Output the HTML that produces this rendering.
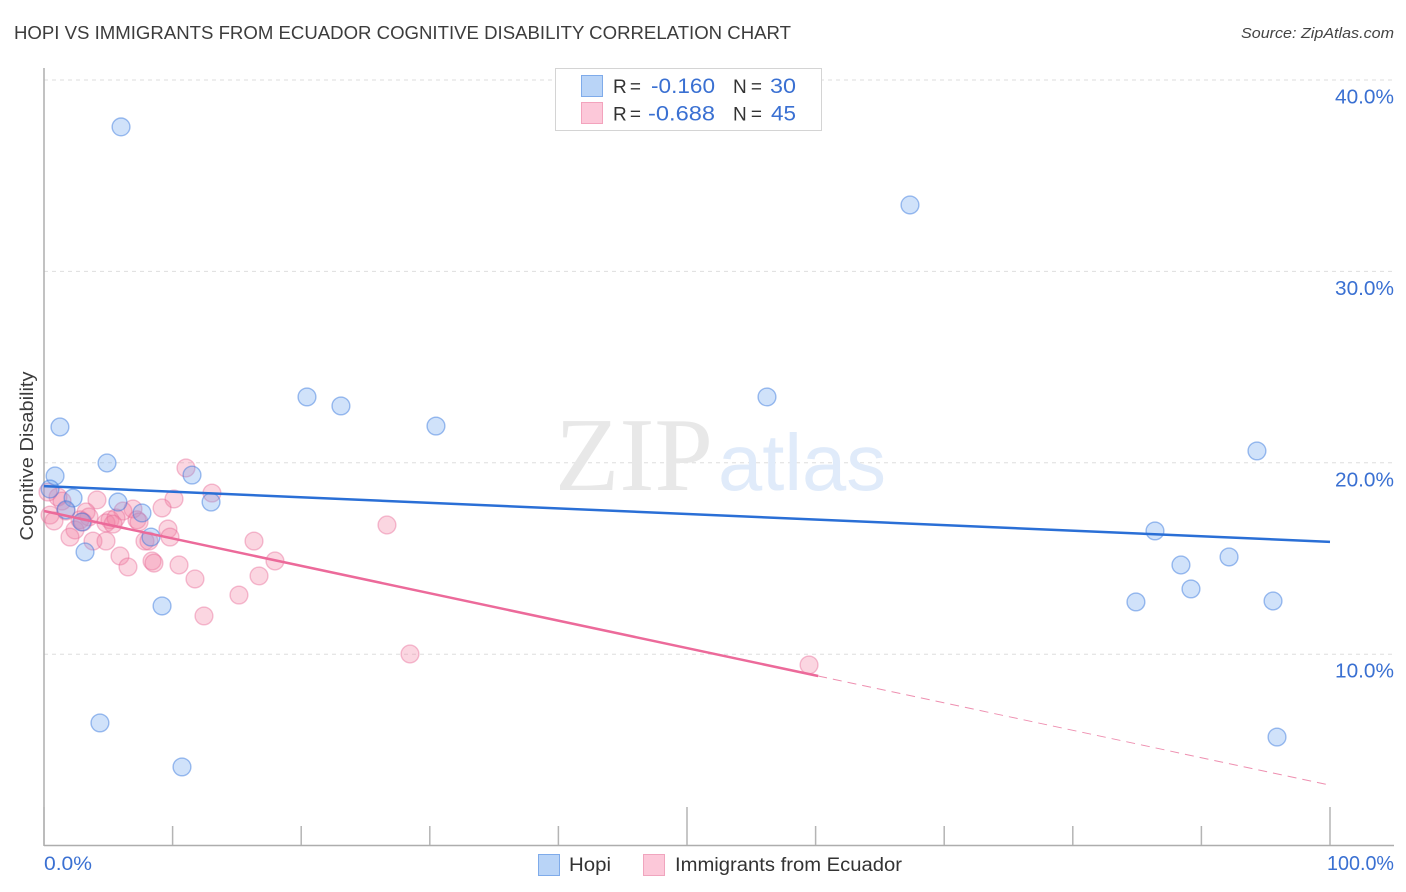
<!DOCTYPE html>
<html lang="en">
<head>
<meta charset="utf-8">
<title>Hopi vs Immigrants from Ecuador Cognitive Disability Correlation Chart</title>
<style>
html,body{margin:0;padding:0;background:#fff;width:1406px;height:892px;overflow:hidden}
svg{display:block;font-family:"Liberation Sans",sans-serif}
</style>
</head>
<body>
<svg id="chart" width="1406" height="892" viewBox="0 0 1406 892" xmlns="http://www.w3.org/2000/svg">
  <text x="14" y="39" font-size="18.5" fill="#3c3c3c" textLength="777" lengthAdjust="spacingAndGlyphs">HOPI VS IMMIGRANTS FROM ECUADOR COGNITIVE DISABILITY CORRELATION CHART</text>
  <text x="1241" y="38" font-size="15" font-style="italic" fill="#444" textLength="153" lengthAdjust="spacingAndGlyphs">Source: ZipAtlas.com</text>
  <g id="grid"></g>
  <g>
    <text x="555" y="490" font-family="'Liberation Serif',serif" font-size="105" fill="#e8e8e8" textLength="158" lengthAdjust="spacingAndGlyphs">ZIP</text>
    <text x="718" y="490" font-size="80" fill="#e0ebfa" textLength="168" lengthAdjust="spacingAndGlyphs">atlas</text>
  </g>
  <g id="axes"></g>
  <g id="points-pink"></g>
  <g id="points-blue"></g>
  <g id="trends"></g>
  <g id="labels"></g>
  <text transform="translate(33,456) rotate(-90)" text-anchor="middle" font-size="18.5" fill="#3c3c3c" textLength="169" lengthAdjust="spacingAndGlyphs">Cognitive Disability</text>

  <g>
    <rect x="555.5" y="68.5" width="266" height="62" fill="#fff" stroke="#d4d4d4"/>
    <rect x="581.5" y="75.5" width="21" height="21" fill="#b9d4f7" stroke="#7fabea"/>
    <rect x="581.5" y="102.5" width="21" height="21" fill="#fcc8d9" stroke="#f3a3bd"/>
    <text x="613" y="93" font-size="19" fill="#333" textLength="28">R =</text>
    <text x="651" y="93" font-size="21.5" fill="#3a70d2" textLength="64" lengthAdjust="spacingAndGlyphs">-0.160</text>
    <text x="733" y="93" font-size="19" fill="#333" textLength="29">N =</text>
    <text x="770" y="93" font-size="21.5" fill="#3a70d2" textLength="26" lengthAdjust="spacingAndGlyphs">30</text>
    <text x="613" y="120.500" font-size="19" fill="#333" textLength="28">R =</text>
    <text x="648" y="120.500" font-size="21.5" fill="#3a70d2" textLength="67" lengthAdjust="spacingAndGlyphs">-0.688</text>
    <text x="733" y="120.500" font-size="19" fill="#333" textLength="29">N =</text>
    <text x="771" y="120.500" font-size="21.5" fill="#3a70d2" textLength="25" lengthAdjust="spacingAndGlyphs">45</text>
  </g>

  <g>
    <g>
      <rect x="538.500" y="854.500" width="21" height="21" fill="#b9d4f7" stroke="#7fabea"/>
      <text x="569" y="871" font-size="19" fill="#333" textLength="42" lengthAdjust="spacingAndGlyphs">Hopi</text>
    </g>
    <g>
      <rect x="643.500" y="854.500" width="21" height="21" fill="#fcc8d9" stroke="#f0a5be"/>
      <text x="675" y="871" font-size="19" fill="#333" textLength="227" lengthAdjust="spacingAndGlyphs">Immigrants from Ecuador</text>
    </g>
  </g>
</svg>
<script>
const hopiX = [5.99,67.34,20.45,23.09,30.48,56.22,1.24,4.90,0.86,11.51,0.47,2.26,5.75,12.99,7.62,1.71,2.95,8.32,3.19,9.18,4.35,10.73,94.32,86.39,88.41,92.15,89.19,84.91,95.57,95.88];
const hopiY = [37.55,33.47,23.44,22.97,21.92,23.44,21.87,19.99,19.31,19.36,18.63,18.16,17.95,17.95,17.38,17.54,16.91,16.12,15.34,12.52,6.41,4.11,20.62,16.44,14.66,15.08,13.41,12.73,12.78,5.67];
const ecuadorX = [11.04,13.06,10.11,4.12,9.18,6.92,6.14,3.27,1.09,1.40,0.31,1.71,0.47,0.78,3.50,5.13,4.82,5.60,7.23,7.39,2.80,2.41,2.02,3.81,4.82,9.64,9.80,7.85,8.16,5.37,5.91,6.53,8.40,8.55,10.50,11.74,17.96,16.33,16.72,15.16,12.44,26.67,28.46,59.49,3.03];
const ecuadorY = [19.73,18.42,18.11,18.06,17.64,17.59,17.48,17.43,18.21,18.00,18.47,17.48,17.27,16.96,17.17,17.02,16.86,17.12,17.02,16.91,17.02,16.49,16.12,15.91,15.91,16.54,16.12,15.91,15.91,16.80,15.13,14.56,14.87,14.76,14.66,13.93,14.87,15.91,14.09,13.09,12.00,16.75,10.01,9.44,16.91];
const hopiTrend = [18.78,15.87];
const ecuadorTrend = [17.48,3.16];
const ecuadorSolidEnd = 60.2;
const yTicks = [10,20,30,40];
const yTickLabels = ['10.0%','20.0%','30.0%','40.0%'];
const xTicks = [0,10,20,30,40,50,60,70,80,90,100];
const xMajorTicks = [0,50,100];
const xTickLabels = ['0.0%','100.0%'];

const NS = 'http://www.w3.org/2000/svg';
function xScale(v){ return 44 + v * 12.86; }
function yScale(v){ return 845.6 - v * 19.14; }
function make(tag, attrs, parent){
  const el = document.createElementNS(NS, tag);
  for (const k in attrs) el.setAttribute(k, attrs[k]);
  parent.appendChild(el);
  return el;
}
function trendAt(t, x){ return t[0] + (t[1] - t[0]) * x / 100; }

const grid = document.getElementById('grid');
yTicks.forEach(function(t){
  const line = make('line', {x1:44, x2:1394, y1:yScale(t), y2:yScale(t), stroke:'#dedede', 'stroke-width':1, 'stroke-dasharray':'4 4'}, grid);
  
  
});

const axes = document.getElementById('axes');
const yAxis = make('line', {x1:44, x2:44, y1:68, y2:846, stroke:'#adadad', 'stroke-width':1.5}, axes);


const xAxis = make('line', {x1:44, x2:1394, y1:845.5, y2:845.5, stroke:'#adadad', 'stroke-width':1.5}, axes);


xTicks.forEach(function(t){
  const top = xMajorTicks.indexOf(t) >= 0 ? 807 : 826;
  const tick = make('line', {x1:xScale(t), x2:xScale(t), y1:top, y2:845, stroke:'#b4b4b4', 'stroke-width':1.5}, axes);
  
  
});

function drawPoints(id, xs, ys, fill, stroke, name){
  const g = document.getElementById(id);
  xs.forEach(function(x, i){
    const c = make('circle', {cx:xScale(x), cy:yScale(ys[i]), r:8.9, fill:fill, stroke:stroke, 'stroke-width':1.4}, g);
    
    
  });
}
drawPoints('points-pink', ecuadorX, ecuadorY, 'rgba(244,130,165,0.33)', 'rgba(232,105,150,0.42)', 'ecuador-point');
drawPoints('points-blue', hopiX, hopiY, 'rgba(110,165,240,0.32)', 'rgba(50,115,220,0.46)', 'hopi-point');

const trends = document.getElementById('trends');
const blueLine = make('line', {x1:xScale(0), y1:yScale(trendAt(hopiTrend,0)), x2:xScale(100), y2:yScale(trendAt(hopiTrend,100)), stroke:'#2a6fd6', 'stroke-width':2.5}, trends);


const pinkLine = make('line', {x1:xScale(0), y1:yScale(trendAt(ecuadorTrend,0)), x2:xScale(ecuadorSolidEnd), y2:yScale(trendAt(ecuadorTrend,ecuadorSolidEnd)), stroke:'#ec6a9a', 'stroke-width':2.5}, trends);


const pinkDash = make('line', {x1:xScale(ecuadorSolidEnd), y1:yScale(trendAt(ecuadorTrend,ecuadorSolidEnd)), x2:xScale(100), y2:yScale(trendAt(ecuadorTrend,100)), stroke:'#ee8fb0', 'stroke-width':1, 'stroke-dasharray':'9 6'}, trends);



const labels = document.getElementById('labels');
yTicks.forEach(function(t, i){
  const text = make('text', {x:1394, y:yScale(t) + 23.5, 'text-anchor':'end', 'font-size':20, fill:'#3a70d2', textLength:59, lengthAdjust:'spacingAndGlyphs'}, labels);
  
  
  text.textContent = yTickLabels[i];
});
const x0Label = make('text', {x:44, y:870, 'font-size':19.500, fill:'#3a70d2', textLength:48, lengthAdjust:'spacingAndGlyphs'}, labels);


x0Label.textContent = xTickLabels[0];
const x100Label = make('text', {x:1394, y:870, 'text-anchor':'end', 'font-size':20, fill:'#3a70d2', textLength:67, lengthAdjust:'spacingAndGlyphs'}, labels);


x100Label.textContent = xTickLabels[1];
</script>
</body>
</html>
